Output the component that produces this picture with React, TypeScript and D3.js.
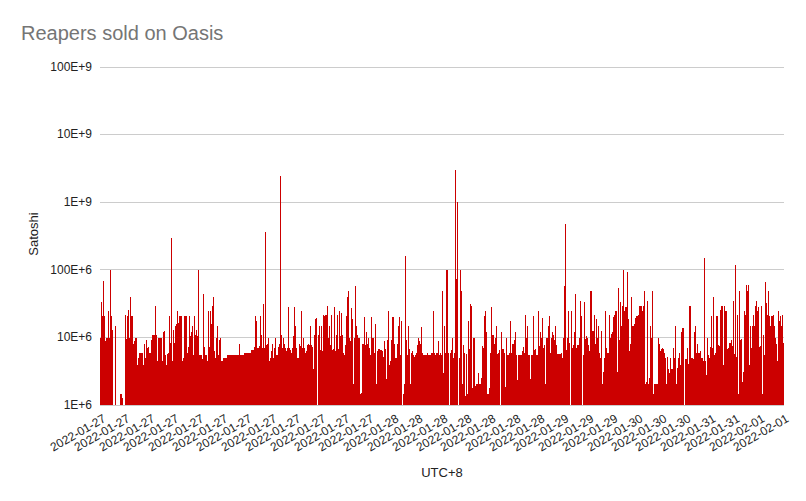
import * as d3 from "d3";

// log10(price in satoshi) per sale; 0 = no bar (gap)
const logSatoshi: number[] = [
  6.99, 7.52, 7.31, 7.83, 7.31, 6.94, 6.99, 6.99, 7.39, 6.99,
  7.99, 7.31, 7.11, 0, 0, 7.17, 0, 0, 0, 0,
  6.16, 6.16, 6.1, 0, 0, 7.32, 6.97, 7.31, 7.4, 6.99,
  7.6, 7.31, 7.31, 6.9, 6.94, 6.99, 6.99, 6.59, 6.69, 6.76,
  6.76, 6.76, 6.76, 6.59, 6.9, 6.69, 6.95, 6.84, 6.86, 6.76,
  6.76, 6.95, 7.03, 7.03, 7.03, 7.46, 7.03, 6.64, 6.99, 6.99,
  6.99, 6.99, 6.65, 7.07, 7.09, 6.74, 6.59, 6.75, 6.77, 7.31,
  6.91, 8.47, 6.64, 7.11, 6.91, 7.16, 7.19, 7.39, 7.21, 7.31,
  7.31, 7.31, 6.64, 6.69, 7.31, 7.31, 7.31, 6.76, 6.86, 7.31,
  7.01, 7.08, 7.17, 6.74, 7.31, 7.03, 7.11, 7.01, 8.0, 6.74,
  6.74, 6.74, 6.67, 7.64, 6.86, 6.74, 6.74, 6.65, 7.39, 6.86,
  7.38, 7.2, 7.46, 7.59, 6.8, 6.69, 6.99, 7.17, 6.74, 6.95,
  6.99, 6.65, 6.65, 6.69, 6.69, 6.69, 6.69, 6.74, 6.74, 6.74,
  6.74, 6.74, 6.74, 6.74, 6.74, 6.74, 6.74, 6.74, 6.74, 6.9,
  6.74, 6.74, 6.74, 6.74, 6.77, 6.77, 6.77, 6.77, 6.77, 6.77,
  6.77, 6.81, 6.81, 6.81, 6.85, 7.31, 7.24, 6.84, 6.84, 6.87,
  7.31, 7.03, 6.84, 7.49, 6.84, 8.55, 6.89, 6.9, 6.99, 6.64,
  6.69, 6.79, 6.9, 6.69, 6.84, 6.99, 6.74, 6.74, 6.85, 6.9,
  9.38, 7.03, 6.84, 6.99, 6.9, 6.84, 6.79, 6.84, 7.45, 6.84,
  6.81, 6.77, 6.84, 7.02, 7.45, 7.17, 6.84, 6.69, 6.69, 6.9,
  6.87, 7.39, 6.84, 6.99, 6.84, 6.76, 6.8, 6.89, 6.9, 6.89,
  7.17, 6.89, 6.86, 6.53, 7.03, 7.27, 7.28, 0, 7.03, 7.17,
  6.81, 7.17, 6.79, 7.32, 7.31, 7.32, 7.32, 7.46, 6.99, 7.17,
  6.89, 7.32, 6.81, 6.82, 7.45, 6.79, 7.03, 7.32, 6.82, 7.39,
  7.01, 7.35, 7.03, 6.76, 6.74, 6.89, 7.31, 7.6, 7.68, 6.99,
  6.94, 7.43, 7.27, 6.3, 6.99, 7.76, 7.17, 7.03, 6.99, 6.99,
  6.16, 6.17, 6.9, 6.9, 7.3, 6.89, 7.07, 6.9, 6.99, 6.84,
  6.74, 7.3, 6.99, 6.99, 6.76, 7.19, 6.3, 6.79, 6.82, 6.82,
  6.81, 6.81, 6.79, 6.71, 6.94, 6.82, 6.38, 6.95, 7.39, 6.59,
  6.65, 6.95, 7.3, 7.3, 6.9, 6.69, 6.69, 6.9, 7.17, 7.3,
  6.74, 7.24, 0, 6.16, 6.3, 8.2, 6.95, 6.74, 7.17, 6.82,
  6.3, 6.76, 6.79, 6.74, 6.71, 6.74, 6.76, 6.89, 6.99, 6.94,
  6.9, 7.15, 6.76, 6.74, 6.74, 6.74, 6.74, 6.77, 6.74, 6.74,
  6.74, 6.77, 6.76, 7.39, 6.76, 6.74, 6.76, 6.76, 6.94, 6.74,
  6.76, 6.74, 7.68, 6.47, 7.17, 6.76, 8.0, 8.0, 6.76, 0,
  6.76, 6.81, 6.99, 6.69, 6.76, 9.47, 7.86, 9.0, 0, 6.69,
  8.0, 7.68, 6.3, 6.89, 6.76, 6.13, 6.75, 6.16, 7.24, 6.82,
  7.49, 7.46, 6.25, 6.99, 6.99, 6.27, 6.3, 6.3, 6.47, 6.3,
  6.3, 6.39, 6.87, 6.84, 7.31, 7.39, 7.07, 6.16, 6.16, 6.25,
  6.76, 7.45, 7.03, 7.03, 6.9, 6.99, 7.17, 6.75, 6.77, 6.81,
  0, 7.07, 6.82, 6.82, 6.76, 6.26, 6.99, 6.74, 6.74, 6.77,
  7.24, 6.76, 6.9, 6.9, 6.95, 7.07, 6.74, 6.37, 6.74, 6.74,
  6.74, 6.74, 6.8, 6.85, 6.77, 7.32, 6.99, 7.17, 6.74, 6.74,
  6.38, 6.74, 6.74, 7.31, 6.81, 6.82, 6.74, 6.74, 7.39, 6.87,
  7.07, 6.99, 7.28, 6.84, 6.89, 6.3, 6.99, 6.99, 7.17, 7.31,
  6.76, 6.99, 7.07, 7.03, 6.95, 7.17, 6.89, 6.75, 6.75, 6.75,
  6.75, 6.77, 6.69, 6.99, 7.75, 8.68, 6.81, 6.99, 7.38, 6.92,
  0, 7.38, 6.84, 6.89, 7.07, 7.64, 6.84, 6.89, 6.89, 6.99,
  7.54, 7.31, 0, 6.74, 7.52, 6.97, 7.02, 6.99, 6.89, 6.79,
  7.68, 7.68, 7.09, 7.09, 7.32, 6.9, 7.27, 6.99, 7.17, 6.77,
  6.69, 7.09, 6.3, 6.48, 6.69, 7.39, 6.84, 6.77, 6.77, 7.32,
  6.99, 7.05, 7.07, 7.29, 7.32, 7.39, 7.38, 6.48, 7.73, 6.95,
  7.52, 7.17, 7.46, 8.0, 7.39, 7.45, 7.45, 7.96, 7.27, 6.8,
  6.9, 7.59, 7.17, 7.17, 7.19, 7.28, 7.31, 7.31, 7.32, 7.46,
  7.46, 7.46, 7.38, 7.46, 7.68, 6.3, 6.34, 7.54, 6.3, 6.39,
  7.17, 6.99, 7.68, 6.16, 6.3, 6.3, 6.3, 6.3, 6.99, 6.9,
  6.8, 6.82, 6.84, 6.82, 6.76, 6.69, 6.3, 6.71, 6.53, 6.47,
  6.69, 6.53, 6.53, 6.84, 6.69, 7.17, 6.3, 6.54, 6.69, 6.76,
  6.59, 7.07, 7.13, 7.13, 0, 6.67, 6.67, 6.84, 6.6, 7.46,
  7.46, 6.69, 6.69, 6.68, 7.07, 7.17, 6.76, 6.9, 6.76, 6.76,
  6.8, 6.69, 6.69, 6.64, 8.17, 6.64, 6.44, 6.99, 6.74, 6.69,
  6.86, 7.31, 6.84, 7.59, 6.74, 6.76, 7.31, 7.31, 6.89, 6.87,
  7.4, 7.46, 7.46, 6.59, 7.46, 7.39, 7.39, 6.82, 6.84, 6.91,
  6.92, 6.95, 6.87, 7.54, 6.75, 8.07, 6.7, 7.33, 6.16, 7.68,
  6.95, 6.97, 6.34, 6.48, 7.38, 7.32, 7.77, 7.68, 7.77, 6.58,
  7.17, 6.84, 7.17, 7.32, 7.16, 7.46, 7.54, 7.39, 7.45, 6.85,
  6.87, 7.46, 6.16, 7.03, 6.74, 7.81, 7.5, 7.32, 7.68, 7.31,
  7.17, 7.31, 7.31, 7.32, 7.17, 6.99, 6.9, 6.65, 7.39, 7.24,
  7.31, 7.17, 7.33, 6.92,
];

const dateLabels: string[] = [
  "2022-01-27", "2022-01-27", "2022-01-27", "2022-01-27", "2022-01-27", "2022-01-27",
  "2022-01-27", "2022-01-27", "2022-01-27", "2022-01-27", "2022-01-27", "2022-01-27",
  "2022-01-28", "2022-01-28", "2022-01-28", "2022-01-28", "2022-01-28", "2022-01-28", "2022-01-28",
  "2022-01-29", "2022-01-29", "2022-01-29",
  "2022-01-30", "2022-01-30", "2022-01-30",
  "2022-01-31", "2022-01-31",
  "2022-02-01", "2022-02-01",
];

const yTicks = [1e6, 1e7, 1e8, 1e9, 1e10, 1e11];
const yTickLabels = ["1E+6", "10E+6", "100E+6", "1E+9", "10E+9", "100E+9"];

const W = 806;
const H = 501;
const margin = { top: 66.7, right: 22, bottom: 96.3, left: 100 };
const FONT = "Arial, 'Liberation Sans', sans-serif";

export default function App() {
  const sales = logSatoshi.map((e, i) => ({ i, value: e > 0 ? Math.pow(10, e) : 0 }));

  const x = d3
    .scaleBand<number>()
    .domain(sales.map((d) => d.i))
    .range([margin.left, W - margin.right])
    .padding(0);

  const y = d3
    .scaleLog()
    .domain([1e6, 1e11])
    .range([H - margin.bottom, margin.top]);

  const n = sales.length;
  const ticksX = dateLabels.map((label, k) => {
    const idx = Math.round((k * (n - 1)) / (dateLabels.length - 1));
    return { label, pos: (x(idx) ?? 0) + x.bandwidth() / 2 };
  });

  const base = y(1e6);

  return (
    <svg
      width={W}
      height={H}
      style={{ position: "absolute", left: 0, top: 0, background: "#fff" }}
      fontFamily={FONT}
    >
      <text x={21} y={40} fontSize={20} fill="#757575">
        Reapers sold on Oasis
      </text>

      {/* grid + y labels */}
      {yTicks.map((t, k) => (
        <g key={t}>
          <line
            x1={margin.left}
            x2={W - margin.right}
            y1={Math.round(y(t)) + 0.5}
            y2={Math.round(y(t)) + 0.5}
            stroke="#cccccc"
            strokeWidth={1}
          />
          <text
            x={92}
            y={y(t) + 4}
            fontSize={12}
            textAnchor="end"
            fill="#222222"
          >
            {yTickLabels[k]}
          </text>
        </g>
      ))}

      {/* bars */}
      <g shapeRendering="crispEdges">
        {sales
          .filter((d) => d.value > 0)
          .map((d) => (
            <rect
              key={d.i}
              x={x(d.i)}
              y={y(d.value)}
              width={x.bandwidth()}
              height={base - y(d.value)}
              fill="#cc0000"
            />
          ))}
      </g>

      {/* x labels */}
      {ticksX.map((t, k) => (
        <text
          key={k}
          transform={`translate(${t.pos + 6},${421}) rotate(-30)`}
          fontSize={12}
          textAnchor="end"
          fill="#222222"
        >
          {t.label}
        </text>
      ))}

      <text x={442} y={477} fontSize={13} textAnchor="middle" fill="#222222">
        UTC+8
      </text>
      <text
        transform={`translate(38,234) rotate(-90)`}
        fontSize={13}
        textAnchor="middle"
        fill="#222222"
      >
        Satoshi
      </text>
    </svg>
  );
}
